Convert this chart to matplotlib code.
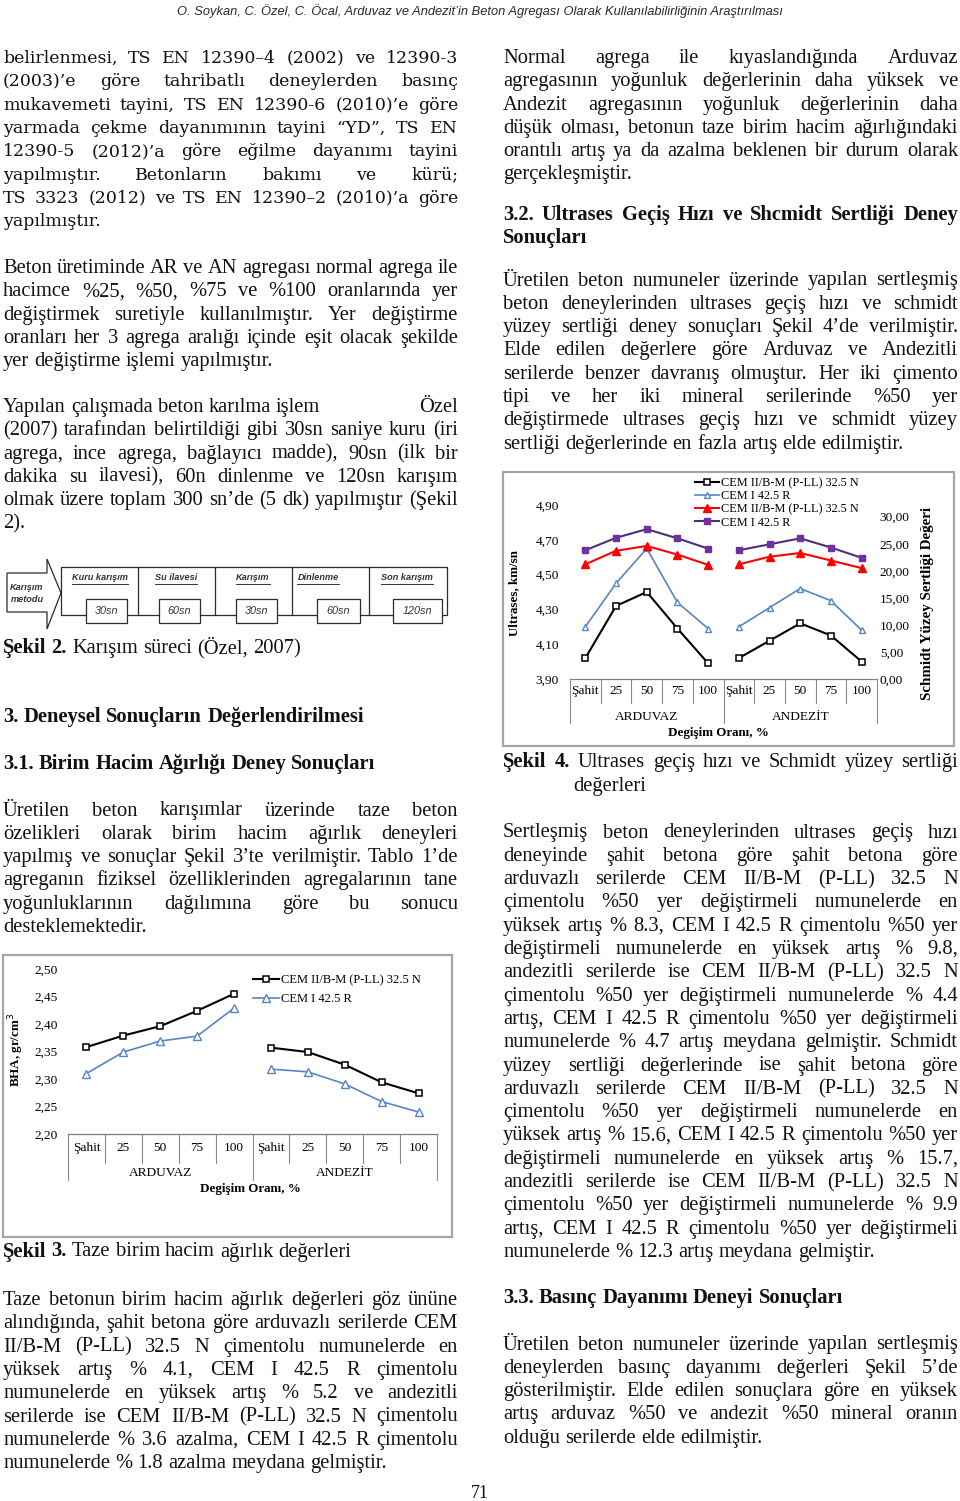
import matplotlib
matplotlib.use('Agg')
import matplotlib.pyplot as plt
import matplotlib.transforms as mtransforms
from matplotlib.patches import Polygon, Rectangle
from matplotlib.lines import Line2D

plt.rcParams['font.family'] = ['Liberation Serif', 'DejaVu Serif']

# ------------------------------------------------------------------ data
categories = ['Şahit', '25', '50', '75', '100', 'Şahit', '25', '50', '75', '100']
groups = ['ARDUVAZ', 'ANDEZİT']
cement_labels = ['CEM II/B-M (P-LL) 32.5 N', 'CEM I 42.5 R']
x_title = 'Degişim Oranı, %'

# Şekil 3 : taze birim hacim ağırlık (BHA, gr/cm3)
bha_cem2_arduvaz = [2.358, 2.379, 2.396, 2.424, 2.455]
bha_cem2_andezit = [2.357, 2.349, 2.326, 2.294, 2.274]
bha_cem1_arduvaz = [2.310, 2.349, 2.369, 2.378, 2.429]
bha_cem1_andezit = [2.318, 2.313, 2.291, 2.259, 2.240]
bha_ticks = [2.20, 2.25, 2.30, 2.35, 2.40, 2.45, 2.50]
bha_ticklabels = ['2,20', '2,25', '2,30', '2,35', '2,40', '2,45', '2,50']

# Şekil 4 : ultrases (km/sn) ve Schmidt yüzey sertliği
ultra_cem2_arduvaz = [4.02, 4.32, 4.40, 4.19, 3.99]
ultra_cem2_andezit = [4.02, 4.12, 4.22, 4.15, 4.00]
ultra_cem1_arduvaz = [4.20, 4.45, 4.65, 4.34, 4.19]
ultra_cem1_andezit = [4.20, 4.31, 4.42, 4.35, 4.18]
schmidt_cem2_arduvaz = [21.2, 23.7, 24.6, 23.0, 21.1]
schmidt_cem2_andezit = [21.2, 22.6, 23.3, 21.9, 20.5]
schmidt_cem1_arduvaz = [23.8, 26.1, 27.7, 26.0, 24.1]
schmidt_cem1_andezit = [23.8, 24.9, 26.0, 24.3, 22.4]
ultra_ticks = [3.90, 4.10, 4.30, 4.50, 4.70, 4.90]
ultra_ticklabels = ['3,90', '4,10', '4,30', '4,50', '4,70', '4,90']
schmidt_ticks = [0, 5, 10, 15, 20, 25, 30]
schmidt_ticklabels = ['0,00', '5,00', '10,00', '15,00', '20,00', '25,00', '30,00']

# Şekil 2 : karışım süreci
mix_steps = ['Kuru karışım', 'Su ilavesi', 'Karışım', 'Dinlenme', 'Son karışım']
mix_times = ['30sn', '60sn', '30sn', '60sn', '120sn']

# ------------------------------------------------------------------ texts
header = 'O. Soykan, C. Özel, C. Öcal, Arduvaz ve Andezit’in Beton Agregası Olarak Kullanılabilirliğinin Araştırılması'

left_p1 = [
    'belirlenmesi, TS EN 12390–4 (2002) ve 12390-3',
    '(2003)’e göre tahribatlı deneylerden basınç',
    'mukavemeti tayini, TS EN 12390-6 (2010)’e göre',
    'yarmada çekme dayanımının tayini “YD”, TS EN',
    '12390-5 (2012)’a göre eğilme dayanımı tayini',
    'yapılmıştır. Betonların bakımı ve kürü;',
    'TS 3323 (2012) ve TS EN 12390–2 (2010)’a göre',
    'yapılmıştır.',
]
left_p2 = [
    'Beton üretiminde AR ve AN agregası normal agrega ile',
    'hacimce %25, %50, %75 ve %100 oranlarında yer',
    'değiştirmek suretiyle kullanılmıştır. Yer değiştirme',
    'oranları her 3 agrega aralığı içinde eşit olacak şekilde',
    'yer değiştirme işlemi yapılmıştır.',
]
left_p3 = [
    'Yapılan çalışmada beton karılma işlem\tÖzel',
    '(2007) tarafından belirtildiği gibi 30sn saniye kuru (iri',
    'agrega, ince agrega, bağlayıcı madde), 90sn (ilk bir',
    'dakika su ilavesi), 60n dinlenme ve 120sn karışım',
    'olmak üzere toplam 300 sn’de (5 dk) yapılmıştır (Şekil',
    '2).',
]
left_p4 = [
    'Üretilen beton karışımlar üzerinde taze beton',
    'özelikleri olarak birim hacim ağırlık deneyleri',
    'yapılmış ve sonuçlar Şekil 3’te verilmiştir. Tablo 1’de',
    'agreganın fiziksel özelliklerinden agregalarının tane',
    'yoğunluklarının dağılımına göre bu sonucu',
    'desteklemektedir.',
]
left_p5 = [
    'Taze betonun birim hacim ağırlık değerleri göz ününe',
    'alındığında, şahit betona göre arduvazlı serilerde CEM',
    'II/B-M (P-LL) 32.5 N çimentolu numunelerde en',
    'yüksek artış % 4.1, CEM I 42.5 R çimentolu',
    'numunelerde en yüksek artış % 5.2 ve andezitli',
    'serilerde ise CEM II/B-M (P-LL) 32.5 N çimentolu',
    'numunelerde % 3.6 azalma, CEM I 42.5 R çimentolu',
    'numunelerde % 1.8 azalma meydana gelmiştir.',
]
right_p1 = [
    'Normal agrega ile kıyaslandığında Arduvaz',
    'agregasının yoğunluk değerlerinin daha yüksek ve',
    'Andezit agregasının yoğunluk değerlerinin daha',
    'düşük olması, betonun taze birim hacim ağırlığındaki',
    'orantılı artış ya da azalma beklenen bir durum olarak',
    'gerçekleşmiştir.',
]
right_h2 = [
    '3.2. Ultrases Geçiş Hızı ve Shcmidt Sertliği Deney',
    'Sonuçları',
]
right_p2 = [
    'Üretilen beton numuneler üzerinde yapılan sertleşmiş',
    'beton deneylerinden ultrases geçiş hızı ve schmidt',
    'yüzey sertliği deney sonuçları Şekil 4’de verilmiştir.',
    'Elde edilen değerlere göre Arduvaz ve Andezitli',
    'serilerde benzer davranış olmuştur. Her iki çimento',
    'tipi ve her iki mineral serilerinde %50 yer',
    'değiştirmede ultrases geçiş hızı ve schmidt yüzey',
    'sertliği değerlerinde en fazla artış elde edilmiştir.',
]
right_p3 = [
    'Sertleşmiş beton deneylerinden ultrases geçiş hızı',
    'deneyinde şahit betona göre şahit betona göre',
    'arduvazlı serilerde CEM II/B-M (P-LL) 32.5 N',
    'çimentolu %50 yer değiştirmeli numunelerde en',
    'yüksek artış % 8.3, CEM I 42.5 R çimentolu %50 yer',
    'değiştirmeli numunelerde en yüksek artış % 9.8,',
    'andezitli serilerde ise CEM II/B-M (P-LL) 32.5 N',
    'çimentolu %50 yer değiştirmeli numunelerde % 4.4',
    'artış, CEM I 42.5 R çimentolu %50 yer değiştirmeli',
    'numunelerde % 4.7 artış meydana gelmiştir. Schmidt',
    'yüzey sertliği değerlerinde ise şahit betona göre',
    'arduvazlı serilerde CEM II/B-M (P-LL) 32.5 N',
    'çimentolu %50 yer değiştirmeli numunelerde en',
    'yüksek artış % 15.6, CEM I 42.5 R çimentolu %50 yer',
    'değiştirmeli numunelerde en yüksek artış % 15.7,',
    'andezitli serilerde ise CEM II/B-M (P-LL) 32.5 N',
    'çimentolu %50 yer değiştirmeli numunelerde % 9.9',
    'artış, CEM I 42.5 R çimentolu %50 yer değiştirmeli',
    'numunelerde % 12.3 artış meydana gelmiştir.',
]
right_p4 = [
    'Üretilen beton numuneler üzerinde yapılan sertleşmiş',
    'deneylerden basınç dayanımı değerleri Şekil 5’de',
    'gösterilmiştir. Elde edilen sonuçlara göre en yüksek',
    'artış arduvaz %50 ve andezit %50 mineral oranın',
    'olduğu serilerde elde edilmiştir.',
]
cap2 = '**Şekil 2.** Karışım süreci (Özel, 2007)'
cap3 = '**Şekil 3.** Taze birim hacim ağırlık değerleri'
cap4 = ['**Şekil 4.** Ultrases geçiş hızı ve Schmidt yüzey sertliği', 'değerleri']
head3 = '3. Deneysel Sonuçların Değerlendirilmesi'
head31 = '3.1. Birim Hacim Ağırlığı Deney Sonuçları'
head33 = '3.3. Basınç Dayanımı Deneyi Sonuçları'
page_no = '71'

# ------------------------------------------------------------------ figure
W, H = 960, 1501
fig = plt.figure(figsize=(W / 100, H / 100), dpi=100)
fig.patch.set_facecolor('white')
page = fig.add_axes([0, 0, 1, 1])
page.set_xlim(0, W)
page.set_ylim(H, 0)
page.axis('off')
renderer = fig.canvas.get_renderer()

SERIF = 'Liberation Serif'
TXT = '#111111'
LH = 23.3


def tw(s, size, weight='normal', family=SERIF, style='normal'):
    t = page.text(0, 0, s, fontsize=size, fontweight=weight, family=family, fontstyle=style)
    w = t.get_window_extent(renderer).width
    t.remove()
    return w


_sp = {}


def space_w(size, family, weight):
    k = (round(size, 3), family, weight)
    if k not in _sp:
        _sp[k] = tw('n n', size, weight, family) - tw('nn', size, weight, family)
    return _sp[k]


def parse(line, weight):
    toks, bold = [], False
    for w in line.split():
        b = bold
        if w.startswith('**'):
            w = w[2:]
            bold = True
            b = True
        if w.endswith('**'):
            w = w[:-2]
            b = True
            bold = False
        toks.append((w, 'bold' if (b or weight == 'bold') else 'normal'))
    return toks


def place(toks, ws, x, y, size, family, gap):
    for (w, wt), wd in zip(toks, ws):
        page.text(x, y, w, fontsize=size, fontweight=wt, family=family,
                  va='baseline', ha='left', color=TXT)
        x += wd + gap


def draw_line(line, x0, width, y, size, family, weight, justify):
    if '\t' in line:
        left, right = line.split('\t')
        draw_line(left, x0, width, y, size, family, weight, False)
        rt = parse(right, weight)
        rw = [tw(w, size, wt, family) for w, wt in rt]
        sp = space_w(size, family, weight)
        total = sum(rw) + sp * (len(rt) - 1)
        place(rt, rw, x0 + width - total, y, size, family, sp)
        return
    toks = parse(line, weight)
    ws = [tw(w, size, wt, family) for w, wt in toks]
    sp = space_w(size, family, weight)
    gap = sp
    if justify and len(toks) > 1:
        gap = (width - sum(ws)) / (len(toks) - 1)
        if gap < 0.55 * sp:
            nat = sum(ws) + 0.8 * sp * (len(toks) - 1)
            size = size * width / nat
            ws = [tw(w, size, wt, family) for w, wt in toks]
            gap = (width - sum(ws)) / (len(toks) - 1)
    place(toks, ws, x0, y, size, family, gap)


def natural_width(line, size, family, weight):
    toks = parse(line.replace('\t', ' '), weight)
    return sum(tw(w, size, wt, family) for w, wt in toks) + space_w(size, family, weight) * (len(toks) - 1)


def fit_size(blocks, width, target, family, weight='normal'):
    s = target
    for lines in blocks:
        for line in lines[:-1]:
            if '\t' in line:
                continue
            nw = natural_width(line, 10, family, weight)
            s = min(s, 10 * width / nw * 0.99)
    return s


def paragraph(lines, x0, y0, size, family=SERIF, weight='normal', width=455, justify_last=False):
    for i, line in enumerate(lines):
        just = (i < len(lines) - 1) or justify_last
        draw_line(line, x0, width, y0 + i * LH, size, family, weight, just)


XL, XR, CW = 3, 503, 455
fitted = fit_size([left_p2, left_p3, left_p4, left_p5, right_p1, right_p2, right_p3, right_p4], CW, 14.0, SERIF)
body = min(14.8, fitted * 1.09)
p1size = fit_size([left_p1], CW, 12.5, 'DejaVu Serif')

# header
HF = ['Liberation Sans Narrow', 'Liberation Sans']
hs = 10 * 609 / tw(header, 10, family=HF, style='italic')
page.text(480, 11, header, fontsize=hs, fontstyle='italic', family=HF,
          ha='center', va='center', color='#2a2a2a')

paragraph(left_p1, XL, 63, p1size, family='DejaVu Serif')
paragraph(left_p2, XL, 273, body)
paragraph(left_p3, XL, 412, body)
draw_line(cap2, XL, CW, 653, body, SERIF, 'normal', False)
draw_line(head3, XL, CW, 722, body, SERIF, 'bold', False)
draw_line(head31, XL, CW, 769, body, SERIF, 'bold', False)
paragraph(left_p4, XL, 815.5, body)
draw_line(cap3, XL, CW, 1256.5, body, SERIF, 'normal', False)
paragraph(left_p5, XL, 1305, body)

paragraph(right_p1, XR, 63, body)
paragraph(right_h2, XR, 220, body, weight='bold')
paragraph(right_p2, XR, 285.5, body)
draw_line(cap4[0], XR, CW, 767, body, SERIF, 'normal', True)
draw_line(cap4[1], 573, CW, 790.5, body, SERIF, 'normal', False)
paragraph(right_p3, XR, 837.5, body)
draw_line(head33, XR, CW, 1303, body, SERIF, 'bold', False)
paragraph(right_p4, XR, 1349.5, body)

page.text(480, 1494, page_no, fontsize=13, ha='center', va='center', color=TXT)

# ------------------------------------------------------------------ Şekil 2 diagram
DG = '#2b2b2b'
arrow = [(7, 573), (47, 573), (47, 559), (61, 593), (47, 629), (47, 612), (7, 612)]
page.add_patch(Polygon(arrow, closed=True, fill=False, edgecolor=DG, lw=0.9))
page.text(27, 587, 'Karışım', fontsize=6.6, fontstyle='italic', fontweight='bold',
          family='Liberation Sans', ha='center', va='center', color='#333333')
page.text(27, 600, 'metodu', fontsize=6.6, fontstyle='italic', fontweight='bold',
          family='Liberation Sans', ha='center', va='center', color='#333333')
page.add_patch(Rectangle((61, 567), 447 - 61, 615 - 567, fill=False, edgecolor=DG, lw=0.9))
for xd in [138, 215, 292, 369]:
    page.plot([xd, xd], [567, 615], color=DG, lw=0.9)
step_x = [100, 176, 253, 318, 407]
box_left = [86, 159, 236, 317, 393]
box_w = [41, 41, 41, 43, 49]
for lab, tm, sx, bl, bw in zip(mix_steps, mix_times, step_x, box_left, box_w):
    page.text(sx, 578, lab, fontsize=6.6, fontstyle='italic', fontweight='bold', family='Liberation Sans',
              ha='center', va='center', color='#333333')
    lw_ = tw(lab, 6.6, 'bold', 'Liberation Sans', 'italic')
    page.plot([sx - lw_ / 2, sx + lw_ / 2], [583.5, 583.5], color='#333333', lw=0.7)
    page.add_patch(Rectangle((bl, 599), bw, 24, facecolor='white', edgecolor=DG, lw=0.9, zorder=3))
    page.text(bl + bw / 2, 611, tm, fontsize=7.8, fontstyle='italic', family='Liberation Sans',
              ha='center', va='center', color='#333333', zorder=4)

# ------------------------------------------------------------------ chart helpers
FR = '#a6a6a6'
TK = 9.6


def px_axes(l, t, r, b):
    return fig.add_axes([l / W, 1 - b / H, (r - l) / W, (b - t) / H])


def category_frame(ax, short_px, long_px, group_px, fs):
    h = ax.get_position().height * H
    tr = mtransforms.blended_transform_factory(ax.transData, ax.transAxes)
    for k in range(11):
        b = k - 0.5
        L = long_px if k in (0, 5, 10) else short_px
        ax.add_line(Line2D([b, b], [0, -L / h], transform=tr, color='#8c8c8c', lw=0.8, clip_on=False))
    for gi, g in enumerate(groups):
        ax.text(2 + 5 * gi, -group_px / h, g, transform=tr, ha='center', va='center', fontsize=fs)


XA = list(range(0, 5))
XB = list(range(5, 10))
BLUE = '#5585c5'

# ------------------------------------------------------------------ Şekil 3
page.add_patch(Rectangle((3, 955), 452 - 3, 1237 - 955, fill=False, edgecolor=FR, lw=1.6))
ax3 = px_axes(68, 969, 437, 1134)
ax3.set_facecolor('none')
k2 = dict(color='black', lw=1.5, marker='s', ms=4.6, mfc='white', mec='black', mew=1.1)
k1 = dict(color=BLUE, lw=1.2, marker='^', ms=5.2, mfc='white', mec=BLUE, mew=1.0)
h1, = ax3.plot(XA, bha_cem2_arduvaz, **k2)
ax3.plot(XB, bha_cem2_andezit, **k2)
h2, = ax3.plot(XA, bha_cem1_arduvaz, **k1)
ax3.plot(XB, bha_cem1_andezit, **k1)
ax3.set_xlim(-0.5, 9.5)
ax3.set_ylim(2.20, 2.50)
ax3.set_yticks(bha_ticks)
ax3.set_yticklabels(bha_ticklabels)
ax3.set_xticks(range(10))
ax3.set_xticklabels(categories)
ax3.tick_params(axis='both', length=0, labelsize=TK)
ax3.tick_params(axis='y', pad=7.5)
ax3.tick_params(axis='x', pad=5.5)
for s in ['top', 'right', 'left']:
    ax3.spines[s].set_visible(False)
ax3.spines['bottom'].set_color('#7f7f7f')
ax3.spines['bottom'].set_linewidth(0.9)
category_frame(ax3, 29, 46, 39, TK)
ax3.legend([h1, h2], cement_labels, loc='upper left', bbox_to_anchor=(253 / W, 1 - 974 / H),
           bbox_transform=fig.transFigure, frameon=False, fontsize=9, borderpad=0, borderaxespad=0,
           handlelength=2.1, handletextpad=0.15, labelspacing=0.55)
page.text(250, 1189, x_title, fontsize=9.4, fontweight='bold', ha='center', va='center')
page.text(16, 1050, 'BHA, gr/cm$^3$', fontsize=9.4, fontweight='bold', rotation=90, ha='center', va='center')

# ------------------------------------------------------------------ Şekil 4
page.add_patch(Rectangle((503, 472), 954 - 503, 746 - 472, fill=False, edgecolor=FR, lw=1.6))
ax4 = px_axes(570, 505, 877, 679)
ax4.set_facecolor('none')
ax4r = ax4.twinx()
ax4r.set_facecolor('none')
RED = '#ff0000'
PUR = '#7030a0'
ku2 = dict(color='black', lw=1.5, marker='s', ms=4.4, mfc='white', mec='black', mew=1.1)
ku1 = dict(color=BLUE, lw=1.2, marker='^', ms=5.0, mfc='white', mec=BLUE, mew=1.0)
ks2 = dict(color=RED, lw=1.5, marker='^', ms=5.2, mfc=RED, mec=RED)
ks1 = dict(color='#4a2f7a', lw=1.5, marker='s', ms=4.6, mfc=PUR, mec=PUR)
g1, = ax4.plot(XA, ultra_cem2_arduvaz, **ku2)
ax4.plot(XB, ultra_cem2_andezit, **ku2)
g2, = ax4.plot(XA, ultra_cem1_arduvaz, **ku1)
ax4.plot(XB, ultra_cem1_andezit, **ku1)
g3, = ax4r.plot(XA, schmidt_cem2_arduvaz, **ks2)
ax4r.plot(XB, schmidt_cem2_andezit, **ks2)
g4, = ax4r.plot(XA, schmidt_cem1_arduvaz, **ks1)
ax4r.plot(XB, schmidt_cem1_andezit, **ks1)
ax4.set_xlim(-0.5, 9.5)
ax4.set_ylim(3.90, 4.90)
ax4r.set_ylim(0, 30 * (679 - 505) / (679 - 516.7))
ax4.set_yticks(ultra_ticks)
ax4.set_yticklabels(ultra_ticklabels)
ax4r.set_yticks(schmidt_ticks)
ax4r.set_yticklabels(schmidt_ticklabels)
ax4.set_xticks(range(10))
ax4.set_xticklabels(categories)
ax4.tick_params(axis='both', length=0, labelsize=TK)
ax4.tick_params(axis='y', pad=8)
ax4.tick_params(axis='x', pad=4.5)
ax4r.tick_params(axis='y', length=0, labelsize=TK, pad=2)
for a in (ax4, ax4r):
    for s in ['top', 'right', 'left']:
        a.spines[s].set_visible(False)
ax4r.spines['bottom'].set_visible(False)
ax4.spines['bottom'].set_color('#7f7f7f')
ax4.spines['bottom'].set_linewidth(0.9)
category_frame(ax4, 24, 44, 38, TK)
ax4r.legend([g1, g2, g3, g4], cement_labels + cement_labels, loc='upper left',
            bbox_to_anchor=(695 / W, 1 - 477 / H), bbox_transform=fig.transFigure, frameon=False,
            fontsize=8.8, borderpad=0, borderaxespad=0, handlelength=2.0, handletextpad=0.15,
            labelspacing=0.1)
page.text(718, 733, x_title, fontsize=9.4, fontweight='bold', ha='center', va='center')
page.text(514, 593, 'Ultrases, km/sn', fontsize=9.4, fontweight='bold', rotation=90, ha='center', va='center')
page.text(928, 603, 'Schmidt Yüzey Sertliği Değeri', fontsize=10.8, fontweight='bold', rotation=90,
          ha='center', va='center')

fig.savefig('out.png', dpi=100, facecolor='white')
